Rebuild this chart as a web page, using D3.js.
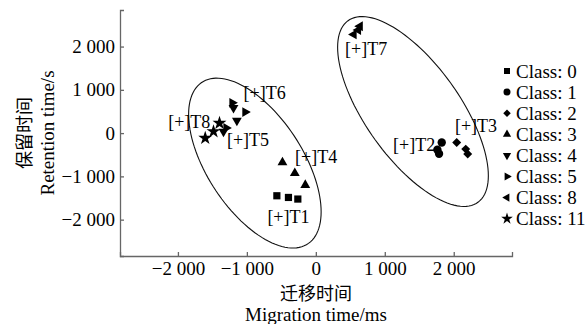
<!DOCTYPE html>
<html lang="zh">
<head>
  <meta charset="UTF-8">
  <title>Migration vs retention time</title>
  <script src="https://d3js.org/d3.v7.min.js"></script>
  <style>
    body { margin: 0; background: #fff; }
    svg { font-family: "Liberation Serif", "Times New Roman", serif; }
    .axis path, .axis line { stroke: #666; stroke-width: 1.3px; }
    .axis text { font-size: 19px; fill: #000; font-family: "Liberation Serif", serif; }
    .lbl { font-size: 18px; }
    .legend text { font-size: 19px; }
    .cjk { font-family: "Noto Sans CJK SC", sans-serif; font-size: 18px; }
  </style>
</head>
<body>
<svg id="chart" width="587" height="324"></svg>
<script>
  // data: [migration time (ms), retention time (s)]
  const classNames = ["0", "1", "2", "3", "4", "5", "8", "11"];
  const class0 = [[-565, -1448], [-397, -1487], [-261, -1524]];
  const class1 = [[1826, -217], [1763, -385], [1787, -478]];
  const class2 = [[2043, -217], [2174, -370], [2203, -485]];
  const class3 = [[-484, -679], [-305, -924], [-153, -1200]];
  const class4 = [[-1194, 584], [-1145, 291], [-1339, 37]];
  const class5 = [[-1213, 700], [-1025, 485], [-1300, 120]];
  const class8 = [[550, 2280], [615, 2380], [640, 2470]];
  const class11 = [[-1604, -115], [-1484, 37], [-1397, 231]];

  const labelNames = ["[+]T1", "[+]T2", "[+]T3", "[+]T4", "[+]T5", "[+]T6", "[+]T7", "[+]T8"];
  const labelPos = [[-397, -1926], [1425, -270], [2323, 176], [4, -540],
                    [-984, -155], [-742, 938], [729, 1940], [-1836, 268]];

  // confidence ellipses: centre x, centre y, var x, var y, cov xy
  const ellipseLeft = [-884, -693, 961 * 961, 1963 * 1963, -1081600];
  const ellipseRight = [1409, 499, 1093 * 1093, 2194 * 2194, -1621400];

  const xTicks = [-2000, -1000, 0, 1000, 2000];
  const yTicks = [-2000, -1000, 0, 1000, 2000];

  const svg = d3.select("#chart");
  const x = d3.scaleLinear().domain([-2840, 2845]).range([120, 512]);
  const y = d3.scaleLinear().domain([-2840, 2845]).range([256, 10]);

  const fmt = d => {
    const s = d3.format(",")(Math.abs(d)).replace(/,/g, " ");
    return d < 0 ? "\u2212" + s : s;
  };

  svg.append("g")
    .attr("class", "axis")
    .attr("transform", "translate(0,256)")
    .call(d3.axisBottom(x).tickValues(xTicks).tickFormat(fmt)
      .tickSize(-4).tickSizeOuter(-4).tickPadding(6));

  svg.append("g")
    .attr("class", "axis")
    .attr("transform", "translate(120,0)")
    .call(d3.axisLeft(y).tickValues(yTicks).tickFormat(fmt)
      .tickSize(-4).tickSizeOuter(-4).tickPadding(5));

  // ellipses
  const ellLine = d3.line().x(d => x(d[0])).y(d => y(d[1]));
  function ellipsePts(e) {
    const [cx, cy, sxx, syy, sxy] = e;
    const sx = Math.sqrt(sxx);
    const b = sxy / sx;
    const c = Math.sqrt(syy - b * b);
    return d3.range(0, 361, 3).map(a => {
      const t = a * Math.PI / 180;
      return [cx + sx * Math.cos(t), cy + b * Math.cos(t) + c * Math.sin(t)];
    });
  }
  [ellipseLeft, ellipseRight].forEach(e => {
    svg.append("path")
      .attr("d", ellLine(ellipsePts(e)))
      .attr("fill", "none")
      .attr("stroke", "#111")
      .attr("stroke-width", 1.1);
  });

  // markers
  const series = [class0, class1, class2, class3, class4, class5, class8, class11];
  const shapes = [
    {type: d3.symbolSquare, size: 52, rot: 0},
    {type: d3.symbolCircle, size: 55, rot: 0},
    {type: d3.symbolSquare, size: 40, rot: 45},
    {type: d3.symbolTriangle, size: 42, rot: 0},
    {type: d3.symbolTriangle, size: 42, rot: 180},
    {type: d3.symbolTriangle, size: 42, rot: 90},
    {type: d3.symbolTriangle, size: 42, rot: -90},
    {type: d3.symbolStar, size: 60, rot: 0}
  ];

  series.forEach((pts, i) => {
    const sh = shapes[i];
    svg.append("g").selectAll("path")
      .data(pts)
      .join("path")
      .attr("d", d3.symbol().type(sh.type).size(sh.size))
      .attr("transform", d => `translate(${x(d[0])},${y(d[1])}) rotate(${sh.rot})`)
      .attr("fill", "#000");
  });

  // point labels
  svg.append("g").selectAll("text")
    .data(labelNames)
    .join("text")
    .attr("class", "lbl")
    .attr("x", (d, i) => x(labelPos[i][0]))
    .attr("y", (d, i) => y(labelPos[i][1]))
    .attr("dy", "0.35em")
    .attr("text-anchor", "middle")
    .text(d => d);

  // legend
  const legend = svg.append("g").attr("class", "legend");
  classNames.forEach((c, i) => {
    const sh = shapes[i];
    const ly = 71 + i * 21.1;
    legend.append("path")
      .attr("d", d3.symbol().type(sh.type).size(sh.size * 0.7))
      .attr("transform", `translate(507,${ly}) rotate(${sh.rot})`)
      .attr("fill", "#000");
    legend.append("text")
      .attr("x", 516)
      .attr("y", ly)
      .attr("dy", "0.35em")
      .text("Class: " + c);
  });

  // axis titles
  svg.append("text").attr("class", "cjk")
    .attr("x", 316).attr("y", 294).attr("dy", "0.35em")
    .attr("text-anchor", "middle").text("迁移时间");
  svg.append("text")
    .attr("x", 316).attr("y", 314).attr("dy", "0.35em")
    .attr("text-anchor", "middle").style("font-size", "19px").text("Migration time/ms");
  svg.append("text").attr("class", "cjk")
    .attr("transform", "translate(25,133) rotate(-90)").attr("dy", "0.35em")
    .attr("text-anchor", "middle").text("保留时间");
  svg.append("text")
    .attr("transform", "translate(47,133) rotate(-90)").attr("dy", "0.35em")
    .attr("text-anchor", "middle").style("font-size", "19px").text("Retention time/s");
</script>
</body>
</html>
